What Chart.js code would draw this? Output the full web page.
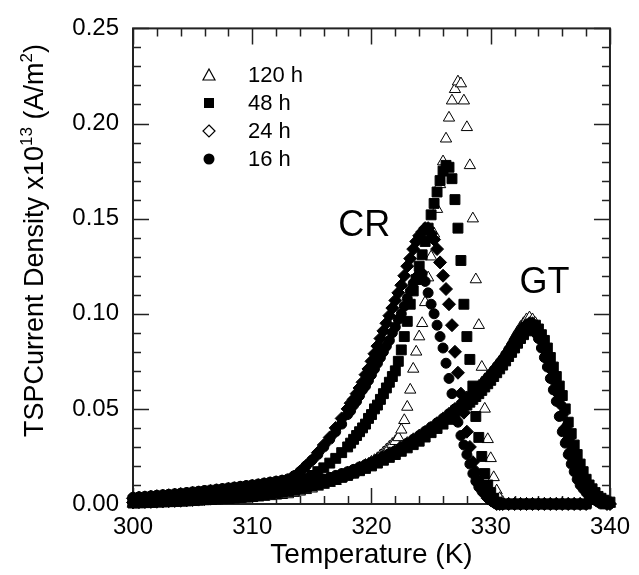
<!DOCTYPE html>
<html>
<head>
<meta charset="utf-8">
<script src="https://cdn.jsdelivr.net/npm/chart.js"></script>
<style>
  body { margin: 0; background: #fff; }
  #wrap { width: 639px; height: 575px; position: relative; }
</style>
</head>
<body>
<div id="wrap"><canvas id="chart"></canvas></div>
<script>
// --- data (J in units of 1e13 A/m^2) ---
const tempCR = [
  300,300.5,301,301.5,302,302.5,303,303.5,304,304.5,305,305.5,306,306.5,307,307.5,308,308.5,
  309,309.5,310,310.5,311,311.5,312,312.5,313,313.5,314,314.5,315,315.5,316,316.5,317,317.5,
  318,318.25,318.5,318.75,319,319.25,319.5,319.75,320,320.25,320.5,320.75,321,321.25,321.5,321.75,
  322,322.25,322.5,322.75,323,323.25,323.5,323.75,324,324.25,324.5,324.75,325,325.25,325.5,325.75,
  326,326.25,326.5,326.75,327,327.25,327.5,327.75,328,328.25,328.5,328.75,329,329.25,329.5,329.75,
  330,330.25,330.5,330.75,331,
  331.5,332,332.5,333,333.5,334,334.5,335,335.5,336,336.5,337,337.5,338
];

const cr16 = [
  .0035,.0038,.0040,.0043,.0046,.0049,.0051,.0054,.0057,.0060,.0064,.0067,.0071,.0074,.0078,.0081,.0085,.0089,
  .0093,.0097,.0101,.0105,.0110,.0115,.0120,.0125,.0132,.0148,.017,.020,.023,.026,.030,.034,.038,.042,
  .047,.049,.052,.054,.057,.060,.062,.065,.068,.071,.074,.077,.080,.083,.086,.090,
  .093,.097,.100,.104,.108,.112,.116,.119,.121,.121,.117,.111,.105,.100,.094,.088,
  .082,.074,.066,.058,.050,.043,.036,.031,.026,.021,.016,.012,.009,.007,.006,.004,
  .002,.001,.0005,0,0,
  0,0,0,0,0,0,0,0,0,0,0,0,0,0
];

const cr24 = [
  .0030,.0033,.0035,.0038,.0041,.0043,.0046,.0049,.0052,.0055,.0058,.0061,.0065,.0068,.0072,.0075,.0079,.0083,
  .0087,.0091,.0095,.0099,.0104,.0109,.0114,.0119,.0125,.0143,.017,.020,.023,.027,.031,.035,.040,.045,
  .050,.053,.055,.058,.061,.064,.068,.071,.075,.079,.083,.087,.091,.095,.099,.103,
  .107,.111,.115,.120,.125,.129,.134,.138,.141,.143,.145,.145,.142,.139,.134,.127,
  .120,.113,.105,.094,.080,.069,.058,.048,.038,.030,.022,.017,.012,.008,.005,.003,
  .002,.001,0,0,0,
  0,0,0,0,0,0,0,0,0,0,0,0,0,0
];

const cr48 = [
  .0020,.0022,.0024,.0026,.0028,.0030,.0032,.0034,.0036,.0038,.0040,.0042,.0045,.0048,.0051,.0054,.0057,.0060,
  .0063,.0066,.0070,.0074,.0078,.0082,.0087,.0093,.0100,.011,.012,.0135,.015,.017,.019,.0215,.024,.027,
  .030,.032,.034,.036,.038,.040,.042,.045,.047,.050,.052,.055,.058,.061,.064,.067,
  .070,.075,.081,.088,.096,.105,.112,.118,.125,.131,.138,.145,.152,.158,.164,.170,
  .175,.178,.177,.171,.160,.145,.128,.105,.088,.076,.062,.046,.035,.025,.016,.010,
  .006,.003,.001,0,0,
  0,0,0,0,0,0,0,0,0,0,0,0,0,0
];

const cr120 = [
  .0005,.0006,.0007,.0008,.0009,.0010,.0011,.0012,.0013,.0014,.0015,.0016,.0017,.0018,.0019,.0020,.0022,.0024,
  .0026,.0028,.0030,.0033,.0036,.0040,.0043,.0046,.0050,.0057,.0064,.0072,.0080,.0090,.0100,.0110,.0120,.0135,
  .015,.0155,.016,.017,.018,.019,.020,.021,.022,.023,.024,.0255,.027,.0285,.030,.0315,
  .033,.035,.039,.044,.051,.060,.071,.080,.088,.095,.106,.119,.130,.142,.155,.168,
  .180,.192,.203,.212,.218,.222,.221,.212,.198,.178,.150,.118,.094,.072,.050,.034,
  .024,.014,.007,.003,.001,
  0,0,0,0,0,0,0,0,0,0,0,0,0,0
];

const tempGT = [
  300,300.5,301,301.5,302,302.5,303,303.5,304,304.5,305,305.5,306,306.5,307,307.5,308,308.5,309,309.5,310,
  310.5,311,311.5,312,312.5,313,313.5,314,314.5,315,315.5,316,316.5,317,317.5,318,318.5,319,319.5,320,
  320.5,321,321.5,322,322.5,323,323.5,324,324.5,325,325.5,326,326.5,327,327.5,328,
  328.25,328.5,328.75,329,329.25,329.5,329.75,330,330.25,330.5,330.75,331,331.25,331.5,331.75,
  332,332.25,332.5,332.75,333,333.25,333.5,333.75,334,334.25,334.5,334.75,335,335.25,335.5,335.75,
  336,336.25,336.5,336.75,337,337.25,337.5,337.75,338,338.25,338.5,338.75,339,339.25,339.5,339.75,340
];

const gt16 = [
  .0010,.0011,.0012,.0013,.0015,.0016,.0018,.0019,.0020,.0022,.0025,.0027,.0030,.0032,.0035,.0037,.0040,.0042,.0045,.0047,.0050,
  .0055,.0060,.0065,.0070,.0075,.0080,.0085,.0090,.0100,.0110,.0120,.0130,.0140,.0150,.0160,.0170,.0182,.0195,.0207,.0220,
  .0235,.0250,.0265,.0280,.0300,.0320,.0340,.0360,.0382,.0405,.0427,.0450,.0475,.0500,.0525,.0550,
  .0565,.058,.0595,.061,.0627,.0645,.0662,.068,.070,.072,.074,.076,.0785,.081,.0835,
  .086,.0885,.091,.093,.094,.094,.093,.090,.087,.082,.077,.072,.066,.060,.054,.046,
  .038,.032,.026,.021,.017,.013,.010,.008,.006,.004,.003,.002,.001,0,0,0,0
];

const gt24 = [
  .0008,.0009,.0010,.0011,.0012,.0013,.0015,.0016,.0017,.0019,.0021,.0023,.0026,.0028,.0031,.0033,.0036,.0038,.0041,.0043,.0045,
  .0050,.0055,.0060,.0065,.0070,.0075,.0080,.0086,.0094,.0103,.0112,.0122,.0132,.0142,.0153,.0164,.0175,.0187,.0198,.0210,
  .0225,.0240,.0255,.0270,.0290,.0310,.0330,.0350,.0372,.0395,.0417,.0440,.0465,.0490,.0515,.0540,
  .0555,.057,.0585,.060,.0617,.0635,.0652,.067,.069,.071,.073,.075,.0775,.080,.0825,
  .085,.0875,.090,.092,.094,.095,.095,.093,.090,.086,.081,.076,.071,.065,.059,.053,
  .047,.040,.034,.028,.023,.019,.015,.012,.009,.007,.005,.003,.002,.001,.001,0,0
];

const gt48 = [
  .0005,.0006,.0007,.0008,.0010,.0011,.0012,.0013,.0015,.0016,.0018,.0020,.0022,.0024,.0026,.0028,.0030,.0032,.0035,.0037,.0040,
  .0045,.0050,.0055,.0060,.0065,.0070,.0075,.0080,.0088,.0095,.0102,.0110,.0120,.0130,.0140,.0150,.0162,.0175,.0187,.0200,
  .0215,.0230,.0245,.0260,.0277,.0295,.0312,.0330,.0352,.0375,.0397,.0420,.0445,.0470,.0495,.0520,
  .0535,.055,.0565,.058,.0597,.0615,.0632,.065,.067,.069,.071,.073,.0752,.0775,.0797,
  .082,.0845,.087,.089,.091,.0925,.094,.094,.092,.089,.086,.082,.077,.072,.067,.062,
  .057,.050,.043,.037,.031,.026,.021,.017,.013,.010,.008,.006,.004,.003,.002,.001,.001
];

const gt120 = [
  .0000,.0001,.0002,.0004,.0005,.0006,.0008,.0009,.0010,.0011,.0013,.0014,.0015,.0018,.0020,.0023,.0025,.0028,.0030,.0033,.0035,
  .0039,.0043,.0046,.0050,.0055,.0060,.0065,.0070,.0080,.0090,.0100,.0110,.0120,.0130,.0145,.0160,.0175,.0190,.0205,.0220,
  .0235,.0250,.0265,.0280,.0300,.0320,.0340,.0360,.0380,.0400,.0425,.0450,.0475,.0500,.0530,.0560,
  .0575,.059,.0605,.062,.0637,.0655,.0672,.069,.071,.073,.075,.077,.0795,.082,.085,
  .088,.0905,.093,.095,.097,.098,.097,.095,.092,.088,.083,.078,.072,.066,.060,.054,
  .047,.041,.035,.029,.024,.020,.016,.012,.009,.007,.005,.004,.003,.002,.001,.001,0
];

const legendLabels = ['120 h', '48 h', '24 h', '16 h'];
const xTicks = [300, 310, 320, 330, 340];
const yTicks = [0, 0.05, 0.10, 0.15, 0.20, 0.25];

const FONT = "'Liberation Sans', Arial, sans-serif";

function pts(t, j) {
  return t.map((v, i) => ({ x: v, y: j[i] }));
}

// --- frame with inward ticks on all four sides ---
const frameTicks = {
  id: 'frameTicks',
  beforeDatasetsDraw(chart) {
    const { ctx, chartArea: a, scales: { x, y } } = chart;
    ctx.save();
    ctx.strokeStyle = '#222';
    ctx.lineWidth = 2;
    ctx.strokeRect(a.left, a.top, a.right - a.left, a.bottom - a.top);
    ctx.lineWidth = 1.5;
    ctx.beginPath();
    for (let t = 300; t <= 340; t += 2) {
      const px = Math.round(x.getPixelForValue(t)) + 0.5;
      const len = t % 10 === 0 ? 16 : 8;
      ctx.moveTo(px, a.bottom); ctx.lineTo(px, a.bottom - len);
      ctx.moveTo(px, a.top); ctx.lineTo(px, a.top + len);
    }
    for (let k = 0; k <= 25; k++) {
      const py = Math.round(y.getPixelForValue(k / 100)) + 0.5;
      const len = k % 5 === 0 ? 16 : 8;
      ctx.moveTo(a.left, py); ctx.lineTo(a.left + len, py);
      ctx.moveTo(a.right, py); ctx.lineTo(a.right - len, py);
    }
    ctx.stroke();
    ctx.restore();
  }
};

// --- legend, CR / GT labels, y title with superscripts ---
const extras = {
  id: 'extras',
  afterDraw(chart) {
    const { ctx, scales: { x, y } } = chart;
    ctx.save();
    ctx.fillStyle = '#000';
    ctx.strokeStyle = '#000';
    ctx.font = '36px ' + FONT;
    ctx.textAlign = 'center';
    ctx.textBaseline = 'middle';
    ctx.fillText('CR', x.getPixelForValue(319.4), y.getPixelForValue(0.146));
    ctx.fillText('GT', x.getPixelForValue(334.5), y.getPixelForValue(0.116));

    const sx = 209, tx = 248;
    const rows = [75, 103, 131, 159];
    ctx.font = '22px ' + FONT;
    ctx.textAlign = 'left';
    ctx.lineWidth = 1.2;
    rows.forEach((ry, i) => {
      ctx.beginPath();
      if (i === 0) {
        ctx.moveTo(sx, ry - 6); ctx.lineTo(sx + 6, ry + 5); ctx.lineTo(sx - 6, ry + 5); ctx.closePath();
        ctx.stroke();
      } else if (i === 1) {
        ctx.fillRect(sx - 5, ry - 5, 10, 10);
      } else if (i === 2) {
        ctx.moveTo(sx, ry - 6); ctx.lineTo(sx + 6, ry); ctx.lineTo(sx, ry + 6); ctx.lineTo(sx - 6, ry); ctx.closePath();
        ctx.stroke();
      } else {
        ctx.arc(sx, ry, 5.5, 0, Math.PI * 2);
        ctx.fill();
      }
      ctx.fillText(legendLabels[i], tx, ry + 1);
    });

    // y axis title, read bottom to top
    ctx.translate(36, 437);
    ctx.rotate(-Math.PI / 2);
    ctx.textAlign = 'left';
    ctx.textBaseline = 'middle';
    const parts = [['TSPCurrent Density x10', 27, 0], ['13', 17, -9], [' (A/m', 27, 0], ['2', 17, -9], [')', 27, 0]];
    let pos = 0;
    parts.forEach(([s, size, dy]) => {
      ctx.font = size + 'px ' + FONT;
      ctx.fillText(s, pos, dy);
      pos += ctx.measureText(s).width;
    });
    ctx.restore();
  }
};

const filled = { backgroundColor: '#000', borderColor: '#000', borderWidth: 1 };

new Chart(document.getElementById('chart'), {
  type: 'scatter',
  data: {
    datasets: [
      { label: '16 h', data: pts(tempCR, cr16).concat(pts(tempGT, gt16)), pointStyle: 'circle', pointRadius: 5, ...filled, clip: false },
      { label: '24 h', data: pts(tempCR, cr24).concat(pts(tempGT, gt24)), pointStyle: 'rectRot', pointRadius: 6.5, ...filled, clip: false },
      { label: '48 h', data: pts(tempCR, cr48).concat(pts(tempGT, gt48)), pointStyle: 'rect', pointRadius: 7, ...filled, clip: false },
      { label: '120 h', data: pts(tempCR, cr120).concat(pts(tempGT, gt120)), pointStyle: 'triangle', pointRadius: 6.5,
        backgroundColor: '#fff', borderColor: '#000', borderWidth: 1, clip: false }
    ]
  },
  options: {
    responsive: true,
    maintainAspectRatio: false,
    animation: false,
    layout: { padding: { top: 22, right: 25, left: 0, bottom: 0 } },
    plugins: { legend: { display: false }, tooltip: { enabled: false } },
    scales: {
      x: {
        type: 'linear', min: 300, max: 340,
        grid: { display: false, drawTicks: false },
        border: { display: false },
        afterBuildTicks: s => { s.ticks = xTicks.map(v => ({ value: v })); },
        ticks: { color: '#000', font: { family: FONT, size: 24 }, padding: 9, maxRotation: 0 },
        title: { display: true, text: 'Temperature (K)', color: '#000', font: { family: FONT, size: 28 }, padding: { top: 0, bottom: 3 } },
        afterFit: s => { s.height = 71; }
      },
      y: {
        min: 0, max: 0.25,
        grid: { display: false, drawTicks: false },
        border: { display: false },
        afterBuildTicks: s => { s.ticks = yTicks.map(v => ({ value: v })); },
        ticks: { color: '#000', font: { family: FONT, size: 24 }, padding: 14, callback: v => v.toFixed(2) },
        afterFit: s => { s.width = 133; }
      }
    }
  },
  plugins: [frameTicks, extras]
});
</script>
</body>
</html>
